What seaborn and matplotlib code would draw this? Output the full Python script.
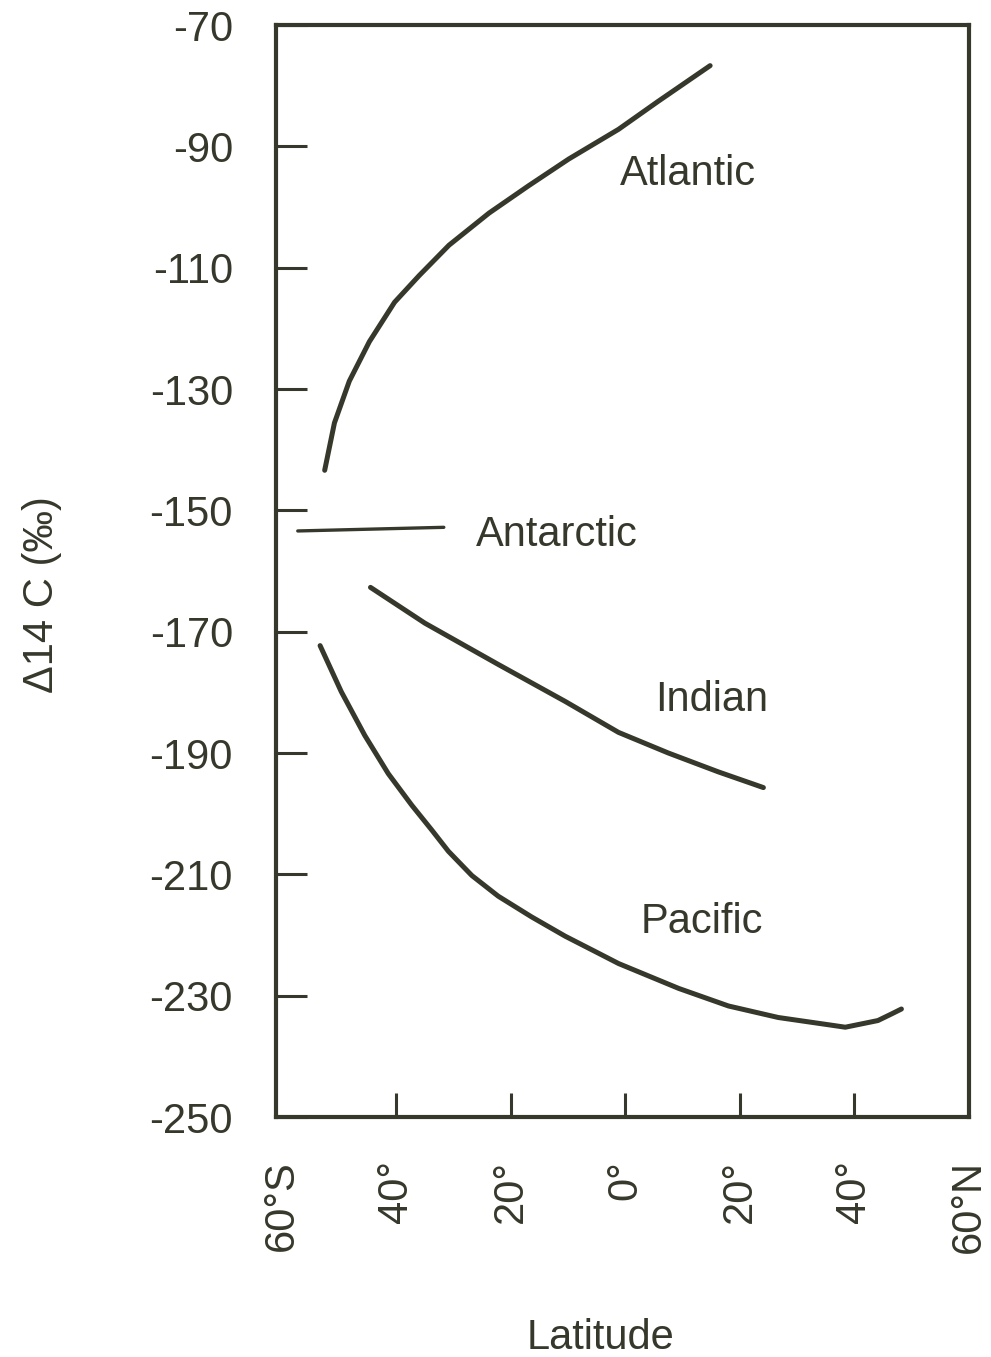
import matplotlib
matplotlib.use("Agg")
import matplotlib.pyplot as plt
import seaborn as sns
import pandas as pd

# Deep-water radiocarbon (Δ14C, ‰) against latitude for each ocean basin
atlantic_lat = [-52.5, -50.8, -48.2, -44.7, -40.3, -36.0, -30.8, -23.8, -16.9, -9.9, -1.2, 5.7, 14.8]
atlantic_d14c = [-143.4, -135.6, -128.7, -122.2, -115.7, -111.3, -106.3, -101.0, -96.5, -92.1, -87.2, -82.6, -76.7]

antarctic_lat = [-57.2, -31.7]
antarctic_d14c = [-153.4, -152.8]

indian_lat = [-44.5, -35.0, -22.2, -10.5, -1.2, 7.5, 16.2, 24.1]
indian_d14c = [-162.7, -168.6, -175.4, -181.5, -186.6, -190.0, -193.1, -195.7]

pacific_lat = [-53.3, -49.6, -45.5, -41.4, -37.3, -33.8, -30.9, -26.8, -22.2, -16.4, -10.5, -4.7,
               -1.2, 9.3, 18.0, 26.7, 35.5, 38.4, 44.1, 46.5, 48.2]
pacific_d14c = [-172.3, -179.9, -187.1, -193.4, -198.6, -202.7, -206.2, -210.2, -213.6, -217.0,
                -220.2, -223.0, -224.7, -228.8, -231.7, -233.6, -234.8, -235.2, -234.1, -233.0, -232.2]

lat_ticks = [-60, -40, -20, 0, 20, 40, 60]
lat_labels = ["60°S", "40°", "20°", "0°", "20°", "40°", "60°N"]
d14c_ticks = [-250, -230, -210, -190, -170, -150, -130, -110, -90, -70]

# Basin names and where they sit on the chart (lat, Δ14C)
basin_names = ["Atlantic", "Antarctic", "Indian", "Pacific"]
basin_label_lat = [11.0, -12.0, 15.0, 13.3]
basin_label_d14c = [-94.6, -154.0, -181.3, -217.9]

INK = "#35382a"

sns.set_style("white")
plt.rcParams["font.family"] = ["Liberation Sans", "DejaVu Sans"]
plt.rcParams["axes.unicode_minus"] = False

fig = plt.figure(figsize=(9.91, 13.57), dpi=100)
ax = fig.add_axes([276 / 991, 1 - 1117 / 1357, 693 / 991, 1092 / 1357])

curves = [
    (atlantic_lat, atlantic_d14c, 3.6),
    (antarctic_lat, antarctic_d14c, 2.4),
    (indian_lat, indian_d14c, 3.6),
    (pacific_lat, pacific_d14c, 3.6),
]
for lat, d14c, lw in curves:
    df = pd.DataFrame({"lat": lat, "d14c": d14c})
    sns.lineplot(data=df, x="lat", y="d14c", ax=ax, color=INK, linewidth=lw,
                 sort=False, estimator=None, solid_capstyle="round",
                 solid_joinstyle="round")

for name, lx, ly in zip(basin_names, basin_label_lat, basin_label_d14c):
    ax.text(lx, ly, name, ha="center", va="center", fontsize=30, color=INK)

ax.set_xlim(-61, 60)
ax.set_ylim(-250, -70)
ax.set_xticks(lat_ticks)
ax.set_xticklabels(lat_labels, rotation=90, va="top")
ax.set_yticks(d14c_ticks)
ax.set_yticklabels([str(v) for v in d14c_ticks])

ax.tick_params(axis="y", direction="in", length=22, width=2.2, pad=31,
               labelsize=30, colors=INK, left=True)
ax.tick_params(axis="x", direction="in", length=17, width=2.2, pad=31,
               labelsize=30, colors=INK, bottom=True)
# no marks at the ends of the latitude axis, only labels
xt = ax.xaxis.get_major_ticks()
xt[0].tick1line.set_visible(False)
xt[-1].tick1line.set_visible(False)

for side in ["left", "right", "top", "bottom"]:
    ax.spines[side].set_visible(True)
    ax.spines[side].set_color(INK)
    ax.spines[side].set_linewidth(3.0)

ax.set_xlabel("Latitude", fontsize=30, color=INK)
ax.xaxis.set_label_coords(0.468, -0.184)
ax.set_ylabel("Δ14 C (‰)", fontsize=30, color=INK)
ax.yaxis.set_label_coords(-0.309, 0.478)

fig.savefig("out.png", dpi=100, facecolor="white")
